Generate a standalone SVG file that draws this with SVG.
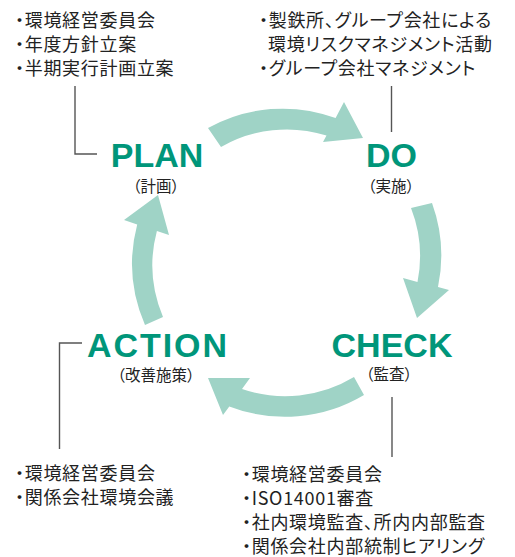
<svg xmlns="http://www.w3.org/2000/svg" width="515" height="557" viewBox="0 0 515 557">
<style>
.arrow{fill:#9fd3c6;stroke:none}
.conn{fill:none;stroke:#555;stroke-width:1.4}
.big{font-family:"Liberation Sans",Arial,sans-serif;font-weight:bold;font-size:34px;fill:#00967a;text-anchor:middle}
.sub{font-family:"Noto Sans CJK JP",sans-serif;font-size:15.5px;fill:#222;text-anchor:middle;font-feature-settings:"palt"}
.list{font-family:"Noto Sans CJK JP",sans-serif;font-size:18px;letter-spacing:0.7px;fill:#222;font-feature-settings:"palt"}
</style>
<rect width="515" height="557" fill="#fff"/>
<g id="connectors">
<path class="arrow" d="M208,128 A154,154 0 0 1 335.6,118 L344,102 L363,138 L323,142 L326.5,135.5 A132,132 0 0 0 221,147 Z"/>
<path class="arrow" d="M432,203 A154,154 0 0 1 438,287 L449,290 L417,318 L403,278 L417.5,282 A133,133 0 0 0 411,208 Z"/>
<path class="arrow" d="M364,395 A154,154 0 0 1 229.3,406.4 L223,415 L208,378 L250,378 L242,389 A133,133 0 0 0 354,377 Z"/>
<path class="arrow" d="M145,325 A154,154 0 0 1 137.2,224.4 L124,220 L158,195 L169,235 L156.9,231 A133,133 0 0 0 163,317 Z"/>
<path class="conn" d="M75,86 V154 H97"/>
<path class="conn" d="M391.5,86 V132"/>
<path class="conn" d="M82,343 H59.5 V449"/>
<path class="conn" d="M392,397 V457"/>
</g>
<g id="plan">
<text class="big" x="157" y="167">PLAN</text>
<text class="sub" x="156" y="192">（計画）</text>
<text class="list" x="15" y="27">・環境経営委員会</text>
<text class="list" x="15" y="51">・年度方針立案</text>
<text class="list" x="15" y="75">・半期実行計画立案</text>
</g>
<g id="do">
<text class="big" x="391.5" y="167">DO</text>
<text class="sub" x="391" y="192">（実施）</text>
<text class="list" x="259" y="27">・製鉄所、グループ会社による</text>
<text class="list" x="268" y="51">環境リスクマネジメント活動</text>
<text class="list" x="259" y="75">・グループ会社マネジメント</text>
</g>
<g id="check">
<text class="big" x="392" y="357">CHECK</text>
<text class="sub" x="389" y="380">（監査）</text>
<text class="list" x="242" y="481">・環境経営委員会</text>
<text class="list" x="242" y="505">・ISO14001審査</text>
<text class="list" x="242" y="529">・社内環境監査、所内内部監査</text>
<text class="list" x="242" y="553">・関係会社内部統制ヒアリング</text>
</g>
<g id="action">
<text class="big" x="157" y="357" textLength="140" lengthAdjust="spacing">ACTION</text>
<text class="sub" x="156" y="381">（改善施策）</text>
<text class="list" x="15" y="480">・環境経営委員会</text>
<text class="list" x="15" y="504">・関係会社環境会議</text>
</g>
</svg>
